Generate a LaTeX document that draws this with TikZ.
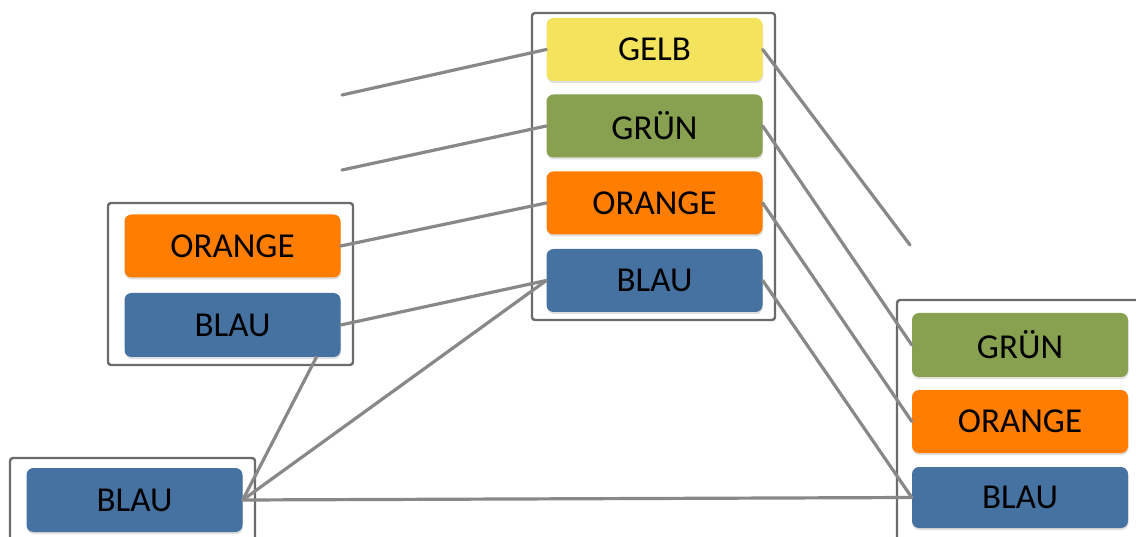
\documentclass[tikz,border=0pt]{standalone}
\usepackage{fontspec}
\setmainfont{Carlito}
\usepackage{xcolor}
\usetikzlibrary{shadows}

\definecolor{gelb}{HTML}{F4E35C}
\definecolor{gruen}{HTML}{88A150}
\definecolor{orangefarbe}{HTML}{FF7D00}
\definecolor{blau}{HTML}{4672A2}
\definecolor{rahmenfarbe}{HTML}{6B6B6B}
\definecolor{linienfarbe}{HTML}{888888}

\tikzset{
  feld/.style={rounded corners=7pt, minimum width=216pt, minimum height=63pt,
    inner sep=0pt, font=\fontsize{35}{40}\selectfont,
    drop shadow={shadow xshift=0.5pt, shadow yshift=-2pt, opacity=0.25}},
  rahmen/.style={draw=rahmenfarbe, line width=2.4pt, rounded corners=3pt},
  linie/.style={draw=linienfarbe, line width=3.2pt, line cap=round},
}

\begin{document}
\begin{tikzpicture}[x=1pt, y=-1pt]
    \clip (0,0) rectangle (1136,537);
    \fill[white] (0,0) rectangle (1136,537);

    % Rahmen
    \draw[rahmen] (532,13) rectangle (775,320);
    \draw[rahmen] (108,203) rectangle (353,365);
    \draw[rahmen] (10,458) rectangle (255,570);
    \draw[rahmen] (897,300) rectangle (1160,570);

    % mitte
    \node[feld, fill=gelb] (mgelb) at (654.5,49.5) {GELB};
    \node[feld, fill=gruen] (mgruen) at (654.5,126) {GRÜN};
    \node[feld, fill=orangefarbe] (morange) at (654.5,203) {ORANGE};
    \node[feld, fill=blau] (mblau) at (654.5,280.5) {BLAU};

    % links
    \node[feld, fill=orangefarbe] (lorange) at (232.5,246) {ORANGE};
    \node[feld, fill=blau, minimum height=64pt] (lblau) at (232.5,325) {BLAU};

    % unten
    \node[feld, fill=blau, minimum height=64pt] (ublau) at (134.5,500) {BLAU};

    % rechts
    \node[feld, fill=gruen, minimum height=64pt] (rgruen) at (1020,345) {GRÜN};
    \node[feld, fill=orangefarbe] (rorange) at (1020,421.5) {ORANGE};
    \node[feld, fill=blau, minimum height=61pt] (rblau) at (1020,497.5) {BLAU};

    % offene Enden
    \coordinate (frei1) at (342,95);
    \coordinate (frei2) at (342,170);
    \coordinate (frei3) at (910,245);

    % Linien
    \draw[linie] (frei1) -- (mgelb.west);
    \draw[linie] (frei2) -- (mgruen.west);
    \draw[linie] (lorange.east) -- (morange.west);
    \draw[linie] (lblau.east) -- (mblau.west);
    \draw[linie] (lblau.-21) -- (ublau.east);
    \draw[linie] (ublau.east) -- (mblau.west);
    \draw[linie] (ublau.east) -- (rblau.west);
    \draw[linie] (mgelb.east) -- (frei3);
    \draw[linie] (mgruen.east) -- (rgruen.west);
    \draw[linie] (morange.east) -- (rorange.west);
    \draw[linie] (mblau.east) -- (rblau.west);
\end{tikzpicture}
\end{document}
